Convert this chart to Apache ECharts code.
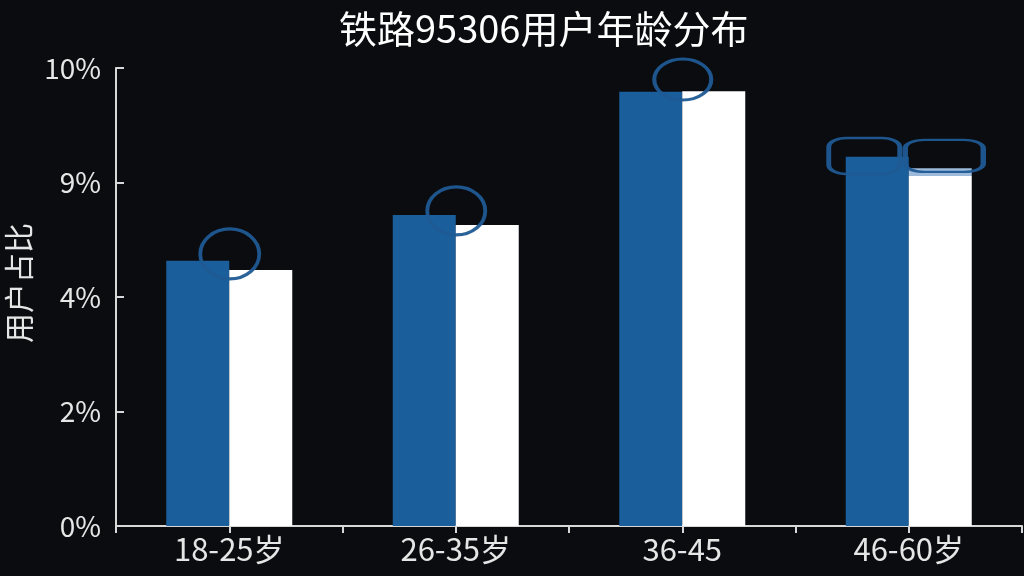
<!DOCTYPE html>
<html>
<head>
<meta charset="utf-8">
<script src="https://cdn.jsdelivr.net/npm/echarts@6/dist/echarts.min.js"></script>
<style>
html,body{margin:0;padding:0;background:#0b0c10;}
#chart{width:1024px;height:576px;}
</style>
</head>
<body>
<div id="chart"></div>
<script>
// ---- data ----
const categories = ['18-25岁', '26-35岁', '36-45', '46-60岁'];
const blueValues = [5.79, 6.79, 9.48, 8.06];
const whiteValues = [5.59, 6.57, 9.49, 7.64];
const highlightValues = [0, 0, 0, 0.17];   // light strip on top of the last white bar
const yTickValues = [0, 2.5, 5, 7.5, 10];
const yTickLabels = ['0%', '2%', '4%', '9%', '10%'];
// hand-drawn annotation anchors (category index, value)
const circleAnchors = [[0, 5.94], [1, 6.88], [2, 9.75]];
const boxAnchors = [[3, 8.08], [3, 8.08]];

const font = '"Noto Sans CJK SC", "Noto Sans", sans-serif';
const annColor = '#1f5a94';

const chart = echarts.init(document.getElementById('chart'));
const markData = [];
const circleSizes = [[59, 50], [58, 48], [57, 41]];
circleAnchors.forEach((a, i) => {
  markData.push({
    coord: [categories[a[0]], a[1]],
    symbol: 'circle',
    symbolSize: circleSizes[i],
    symbolOffset: [32, 0]
  });
});
markData.push({
  coord: [categories[boxAnchors[0][0]], boxAnchors[0][1]],
  symbol: 'roundRect', symbolSize: [71, 36], symbolOffset: [-13, 0]
});
markData.push({
  coord: [categories[boxAnchors[1][0]], boxAnchors[1][1]],
  symbol: 'roundRect', symbolSize: [78, 32], symbolOffset: [67, 0]
});

chart.setOption({
  backgroundColor: '#0b0c10',
  animation: false,
  title: {
    text: '铁路95306用户年龄分布',
    left: 334, top: 5,
    textStyle: { color: '#ffffff', fontSize: 38, fontWeight: 'normal', fontFamily: font }
  },
  grid: { left: 116, right: 2, top: 68, bottom: 50, containLabel: false, outerBoundsMode: 'none' },
  xAxis: [{
    type: 'category',
    data: categories,
    axisLine: { show: true, lineStyle: { color: '#d8d8d8', width: 2 } },
    axisTick: { show: false },
    axisLabel: { color: '#e6e6e6', fontSize: 31, fontFamily: font, margin: 8 }
  }, {
    type: 'category',
    position: 'bottom',
    data: ['', '', '', '', '', '', '', ''],
    axisLine: { show: false },
    axisTick: { show: true, length: 7, lineStyle: { color: '#d8d8d8', width: 2 } },
    axisLabel: { show: false }
  }],
  yAxis: {
    type: 'value',
    min: 0, max: 10, interval: 2.5,
    name: '用户占比',
    nameLocation: 'middle',
    nameGap: 80,
    nameTextStyle: { color: '#e6e6e6', fontSize: 30, fontFamily: font, padding: [0, 0, 0, 28] },
    axisLine: { show: true, lineStyle: { color: '#d8d8d8', width: 2 } },
    axisTick: { show: true, inside: true, length: 8, lineStyle: { color: '#d8d8d8', width: 2 } },
    splitLine: { show: false },
    axisLabel: {
      color: '#e6e6e6', fontSize: 28, fontFamily: font, margin: 15,
      formatter: v => {
        const i = yTickValues.indexOf(v);
        return i >= 0 ? yTickLabels[i] : '';
      }
    }
  },
  series: [{
    type: 'bar',
    data: blueValues,
    barWidth: 63,
    barGap: '0%',
    itemStyle: { color: '#1a5e9c' },
    markPoint: {
      data: markData,
      label: { show: false },
      itemStyle: { color: 'rgba(0,0,0,0)', borderColor: annColor, borderWidth: 3.5, opacity: 0.95 },
      z: 10
    }
  }, {
    type: 'bar',
    stack: 'w',
    data: whiteValues,
    barWidth: 63,
    itemStyle: { color: '#ffffff' }
  }, {
    type: 'bar',
    stack: 'w',
    data: highlightValues,
    barWidth: 63,
    itemStyle: { color: '#9dbadb' }
  }]
});
</script>
</body>
</html>
